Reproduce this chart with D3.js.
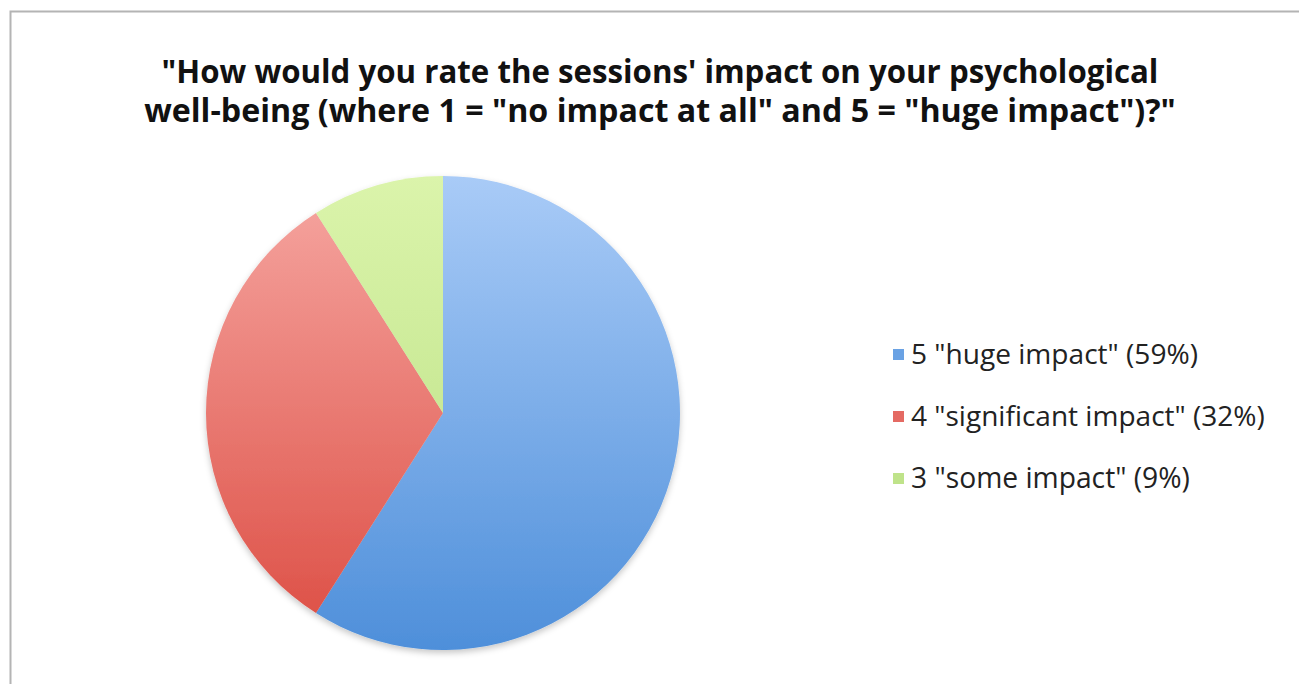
<!DOCTYPE html>
<html><head><meta charset="utf-8">
<script src="https://cdn.jsdelivr.net/npm/d3@7"></script>
<style>body{margin:0;background:#fff;overflow:hidden}svg{display:block}</style>
</head><body>
<svg id="c" width="1299" height="684"></svg>
<script>
const categories = ['5 "huge impact"', '4 "significant impact"', '3 "some impact"'];
const values = [59, 32, 9];
const titleLines = ['"How would you rate the sessions\' impact on your psychological', 'well-being (where 1 = "no impact at all" and 5 = "huge impact")?"'];
const colorsTop = ['#a9cbf7', '#f6a7a2', '#dbf4ab'];
const colorsBottom = ['#4e8fda', '#dc4c42', '#b7de80'];
const legendColors = ['#6aa2e4', '#e46a63', '#bfe38a'];

const svg = d3.select('#c');
svg.append('path').attr('d', 'M10.5,684 V11.5 H1299')
  .attr('fill', 'none').attr('stroke', '#b4b4b4').attr('stroke-width', 2);

const font = '"Open Sans", "Liberation Sans", sans-serif';
function fit(t, w) {
  const fs = +t.attr('font-size');
  const len = t.node().getComputedTextLength();
  t.attr('font-size', fs * w / len);
}
const titleTargets = [{y: 83, w: 997}, {y: 122, w: 1032}];
titleLines.forEach((s, i) => {
  const t = svg.append('text').attr('x', 660).attr('y', titleTargets[i].y)
    .attr('text-anchor', 'middle').attr('font-family', font).attr('font-weight', 'bold')
    .attr('font-size', 30).attr('fill', '#111').text(s);
  fit(t, titleTargets[i].w);
});

const cx = 443, cy = 413, r = 237;
const defs = svg.append('defs');
const f = defs.append('filter').attr('id', 'sh').attr('x', '-10%').attr('y', '-10%').attr('width', '120%').attr('height', '120%');
f.append('feDropShadow').attr('dx', 0).attr('dy', 3).attr('stdDeviation', 3).attr('flood-color', '#000').attr('flood-opacity', 0.22);
values.forEach((v, i) => {
  const g = defs.append('linearGradient').attr('id', 'g' + i).attr('gradientUnits', 'userSpaceOnUse')
    .attr('x1', 0).attr('y1', -r).attr('x2', 0).attr('y2', r);
  g.append('stop').attr('offset', 0).attr('stop-color', colorsTop[i]);
  g.append('stop').attr('offset', 1).attr('stop-color', colorsBottom[i]);
});
const pie = d3.pie().sort(null).value(d => d)(values);
const arc = d3.arc().innerRadius(0).outerRadius(r);
const pg = svg.append('g').attr('transform', `translate(${cx},${cy})`).attr('filter', 'url(#sh)');
pg.selectAll('path').data(pie).join('path')
  .attr('d', arc)
  .attr('fill', (d, i) => `url(#g${i})`);

const lg = svg.append('g');
const rowY = [355, 417, 479];
const legendWidths = [287, 354, 279];
categories.forEach((c, i) => {
  lg.append('rect').attr('x', 893).attr('y', rowY[i] - 6).attr('width', 11).attr('height', 11).attr('fill', legendColors[i]);
  const t = lg.append('text').attr('x', 911).attr('y', rowY[i] + 9).attr('font-family', font)
    .attr('font-size', 24).attr('fill', '#222').text(`${c} (${values[i]}%)`);
  fit(t, legendWidths[i]);
});
</script>
</body></html>
